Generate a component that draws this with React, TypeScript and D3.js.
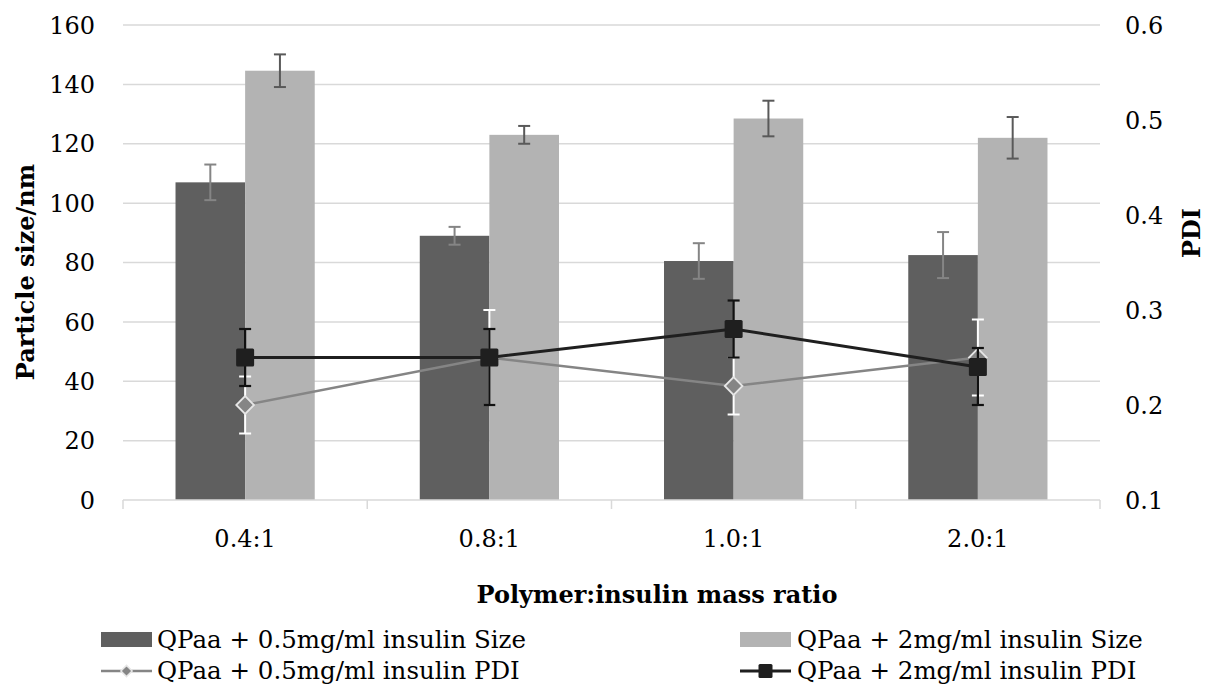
import { useEffect, useRef } from 'react'
import * as d3 from 'd3'

const categories = ['0.4:1', '0.8:1', '1.0:1', '2.0:1']
const size05 = [107, 89, 80.5, 82.5]
const size05Err = [6, 3, 6, 7.75]
const size2 = [144.6, 123, 128.5, 122]
const size2Err = [5.5, 3, 6, 7]
const pdi05 = [0.2, 0.25, 0.22, 0.25]
const pdi05Err = [0.03, 0.05, 0.03, 0.04]
const pdi2 = [0.25, 0.25, 0.28, 0.24]
const pdi2ErrPlus = [0.03, 0.03, 0.03, 0.02]
const pdi2ErrMinus = [0.03, 0.05, 0.03, 0.04]
const leftTicks = [0, 20, 40, 60, 80, 100, 120, 140, 160]
const rightTicks = [0.1, 0.2, 0.3, 0.4, 0.5, 0.6]

const FONT = '"DejaVu Serif", serif'

export default function App() {
  const svgRef = useRef<SVGSVGElement>(null)

  useEffect(() => {
    document.body.style.margin = '0'
    if (!svgRef.current) return
    const svg = d3.select(svgRef.current)
    svg.selectAll('*').remove()

    const left = 123
    const right = 1100
    const top = 25
    const bottom = 500

    const x = d3.scaleBand().domain(categories).range([left, right]).padding(0)
    const yL = d3.scaleLinear().domain([0, 160]).range([bottom, top])
    const yR = d3.scaleLinear().domain([0.1, 0.6]).range([bottom, top])
    const barW = x.bandwidth() * 0.285
    const cx = (c: string) => (x(c) ?? 0) + x.bandwidth() / 2

    // gridlines
    svg.append('g')
      .selectAll('line')
      .data(leftTicks.slice(1))
      .enter()
      .append('line')
      .attr('x1', left)
      .attr('x2', right)
      .attr('y1', d => yL(d))
      .attr('y2', d => yL(d))
      .attr('stroke', '#d9d9d9')
      .attr('stroke-width', 1.5)

    // bars
    const bars = [
      { vals: size05, err: size05Err, color: '#5f5f5f', errColor: '#858585', off: -barW },
      { vals: size2, err: size2Err, color: '#b3b3b3', errColor: '#595959', off: 0 }
    ]
    bars.forEach(b => {
      svg.append('g')
        .selectAll('rect')
        .data(categories)
        .enter()
        .append('rect')
        .attr('x', c => cx(c) + b.off)
        .attr('width', barW)
        .attr('y', (c, i) => yL(b.vals[i]))
        .attr('height', (c, i) => bottom - yL(b.vals[i]))
        .attr('fill', b.color)
    })
    bars.forEach(b => {
      const g = svg.append('g').attr('stroke', b.errColor).attr('stroke-width', 2)
      categories.forEach((c, i) => {
        const xm = cx(c) + b.off + barW / 2
        const y1 = yL(b.vals[i] + b.err[i])
        const y2 = yL(b.vals[i] - b.err[i])
        g.append('line').attr('x1', xm).attr('x2', xm).attr('y1', y1).attr('y2', y2)
        g.append('line').attr('x1', xm - 6).attr('x2', xm + 6).attr('y1', y1).attr('y2', y1)
        g.append('line').attr('x1', xm - 6).attr('x2', xm + 6).attr('y1', y2).attr('y2', y2)
      })
    })

    // x axis line and ticks
    svg.append('line')
      .attr('x1', left).attr('x2', right)
      .attr('y1', bottom).attr('y2', bottom)
      .attr('stroke', '#d9d9d9').attr('stroke-width', 1.5)
    const bounds = categories.map(c => x(c) ?? 0).concat([right])
    svg.append('g')
      .selectAll('line')
      .data(bounds)
      .enter()
      .append('line')
      .attr('x1', d => d).attr('x2', d => d)
      .attr('y1', bottom).attr('y2', bottom + 9)
      .attr('stroke', '#d9d9d9').attr('stroke-width', 1.5)

    // PDI lines
    const line = d3.line<number>()
      .x((d, i) => cx(categories[i]))
      .y(d => yR(d))

    // series 0.5 mg/ml
    svg.append('path')
      .datum(pdi05)
      .attr('d', line)
      .attr('fill', 'none')
      .attr('stroke', '#858585')
      .attr('stroke-width', 2.5)
    const g05 = svg.append('g').attr('stroke', '#ffffff').attr('stroke-width', 2)
    categories.forEach((c, i) => {
      const xm = cx(c)
      const y1 = yR(pdi05[i] + pdi05Err[i])
      const y2 = yR(pdi05[i] - pdi05Err[i])
      g05.append('line').attr('x1', xm).attr('x2', xm).attr('y1', y1).attr('y2', y2)
      g05.append('line').attr('x1', xm - 6).attr('x2', xm + 6).attr('y1', y1).attr('y2', y1)
      g05.append('line').attr('x1', xm - 6).attr('x2', xm + 6).attr('y1', y2).attr('y2', y2)
    })
    svg.append('g')
      .selectAll('path')
      .data(pdi05)
      .enter()
      .append('path')
      .attr('d', d3.symbol(d3.symbolDiamond2, 200))
      .attr('transform', (d, i) => `translate(${cx(categories[i])},${yR(d)})`)
      .attr('fill', '#858585')
      .attr('stroke', '#e6e6e6')
      .attr('stroke-width', 1.8)

    // series 2 mg/ml
    svg.append('path')
      .datum(pdi2)
      .attr('d', line)
      .attr('fill', 'none')
      .attr('stroke', '#1f1f1f')
      .attr('stroke-width', 3)
    const g2 = svg.append('g').attr('stroke', '#111111').attr('stroke-width', 2.2)
    categories.forEach((c, i) => {
      const xm = cx(c)
      const y1 = yR(pdi2[i] + pdi2ErrPlus[i])
      const y2 = yR(pdi2[i] - pdi2ErrMinus[i])
      g2.append('line').attr('x1', xm).attr('x2', xm).attr('y1', y1).attr('y2', y2)
      g2.append('line').attr('x1', xm - 6).attr('x2', xm + 6).attr('y1', y1).attr('y2', y1)
      g2.append('line').attr('x1', xm - 6).attr('x2', xm + 6).attr('y1', y2).attr('y2', y2)
    })
    svg.append('g')
      .selectAll('rect')
      .data(pdi2)
      .enter()
      .append('rect')
      .attr('x', (d, i) => cx(categories[i]) - 9)
      .attr('y', d => yR(d) - 9)
      .attr('width', 18)
      .attr('height', 18)
      .attr('rx', 1.5)
      .attr('fill', '#1f1f1f')

    // tick labels
    const txt = svg.append('g').attr('font-family', FONT).attr('font-size', 24).attr('fill', '#000')
    leftTicks.forEach(t => {
      txt.append('text').attr('x', 95).attr('y', yL(t)).attr('dy', '0.36em')
        .attr('text-anchor', 'end').text(d3.format('d')(t))
    })
    rightTicks.forEach(t => {
      txt.append('text').attr('x', 1125).attr('y', yR(t)).attr('dy', '0.36em')
        .attr('text-anchor', 'start').text(d3.format('.1f')(t))
    })
    categories.forEach(c => {
      txt.append('text').attr('x', cx(c)).attr('y', 547)
        .attr('text-anchor', 'middle').text(c)
    })

    // axis titles
    const ttl = svg.append('g').attr('font-family', FONT).attr('font-size', 24)
      .attr('font-weight', 'bold').attr('fill', '#000')
    ttl.append('text').attr('text-anchor', 'middle')
      .attr('transform', `translate(34,272) rotate(-90)`)
      .text('Particle size/nm')
    ttl.append('text').attr('text-anchor', 'middle')
      .attr('transform', `translate(1200,233) rotate(-90)`)
      .text('PDI')
    ttl.append('text').attr('text-anchor', 'middle')
      .attr('x', 657).attr('y', 603)
      .text('Polymer:insulin mass ratio')

    // legend
    const lg = svg.append('g').attr('font-family', FONT).attr('font-size', 24.5).attr('fill', '#000')
    lg.append('rect').attr('x', 101).attr('y', 632).attr('width', 51).attr('height', 15).attr('fill', '#5f5f5f')
    lg.append('text').attr('x', 157).attr('y', 648).text('QPaa + 0.5mg/ml insulin Size')
    lg.append('rect').attr('x', 740).attr('y', 632).attr('width', 51).attr('height', 15).attr('fill', '#b3b3b3')
    lg.append('text').attr('x', 797).attr('y', 648).text('QPaa + 2mg/ml insulin Size')

    lg.append('line').attr('x1', 101).attr('x2', 152).attr('y1', 671).attr('y2', 671)
      .attr('stroke', '#858585').attr('stroke-width', 2.5)
    lg.append('path').attr('d', d3.symbol(d3.symbolDiamond2, 80))
      .attr('transform', 'translate(126.5,671)')
      .attr('fill', '#858585').attr('stroke', '#e6e6e6').attr('stroke-width', 1.5)
    lg.append('text').attr('x', 157).attr('y', 679).text('QPaa + 0.5mg/ml insulin PDI')

    lg.append('line').attr('x1', 740).attr('x2', 791).attr('y1', 671).attr('y2', 671)
      .attr('stroke', '#1f1f1f').attr('stroke-width', 3)
    lg.append('rect').attr('x', 758.5).attr('y', 664).attr('width', 14).attr('height', 14)
      .attr('rx', 1.5).attr('fill', '#1f1f1f')
    lg.append('text').attr('x', 797).attr('y', 679).text('QPaa + 2mg/ml insulin PDI')
  }, [])

  return (
    <svg
      ref={svgRef}
      width={1219}
      height={689}
      style={{ display: 'block', background: '#fff' }}
    />
  )
}
